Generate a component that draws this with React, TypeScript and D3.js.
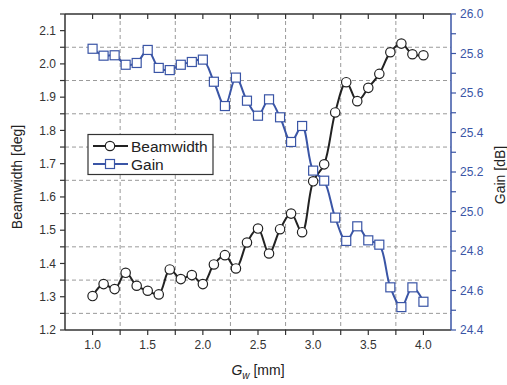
import React from "react";
import * as d3 from "d3";

const gw = [1.0, 1.1, 1.2, 1.3, 1.4, 1.5, 1.6, 1.7, 1.8, 1.9, 2.0, 2.1, 2.2, 2.3, 2.4, 2.5, 2.6, 2.7, 2.8, 2.9, 3.0, 3.1, 3.2, 3.3, 3.4, 3.5, 3.6, 3.7, 3.8, 3.9, 4.0];
const beamwidth = [1.302, 1.338, 1.323, 1.372, 1.333, 1.318, 1.307, 1.382, 1.353, 1.365, 1.338, 1.397, 1.425, 1.385, 1.463, 1.505, 1.43, 1.503, 1.55, 1.494, 1.647, 1.698, 1.854, 1.945, 1.888, 1.928, 1.97, 2.035, 2.061, 2.029, 2.026];
const gain = [25.824, 25.789, 25.791, 25.743, 25.752, 25.818, 25.727, 25.716, 25.743, 25.757, 25.769, 25.657, 25.534, 25.678, 25.561, 25.485, 25.568, 25.477, 25.352, 25.433, 25.207, 25.156, 24.969, 24.851, 24.925, 24.854, 24.832, 24.616, 24.516, 24.616, 24.543];

const xTickLabels = [1.0, 1.5, 2.0, 2.5, 3.0, 3.5, 4.0];
const xGrid = [1.25, 1.75, 2.25, 2.75, 3.25, 3.75];
const yLeftLabels = [1.2, 1.3, 1.4, 1.5, 1.6, 1.7, 1.8, 1.9, 2.0, 2.1];
const yLeftGrid = [1.25, 1.35, 1.45, 1.55, 1.65, 1.75, 1.85, 1.95, 2.05];
const yRightLabels = [24.4, 24.6, 24.8, 25.0, 25.2, 25.4, 25.6, 25.8, 26.0];

const BLUE = "#3a55a6";
const DARK = "#222";
const FONT = "Liberation Sans, Arial, sans-serif";

export default function App() {
  const L = 65, R = 451, T = 14, B = 330;
  const x = d3.scaleLinear().domain([0.75, 4.25]).range([L, R]);
  const yL = d3.scaleLinear().domain([1.2, 2.15]).range([B, T]);
  const yR = d3.scaleLinear().domain([24.4, 26.0]).range([B, T]);

  const xTicksAll = d3.range(0, 14).map((i) => 1.0 + i * 0.25).filter((v) => v < 4.25);
  const yLTicksAll = d3.range(0, 20).map((i) => 1.2 + i * 0.05).filter((v) => v <= 2.1501);
  const yRTicksAll = d3.range(0, 17).map((i) => 24.4 + i * 0.1);

  const pts1: [number, number][] = gw.map((g, i) => [x(g), yL(beamwidth[i])]);
  const pts2: [number, number][] = gw.map((g, i) => [x(g), yR(gain[i])]);
  const line = d3.line().curve(d3.curveCatmullRom.alpha(0.5));

  return (
    <svg width={507} height={385} style={{ position: "absolute", left: 0, top: 0 }} fontFamily={FONT}>
      <rect x={0} y={0} width={507} height={385} fill="#fff" />
      {/* grid */}
      <g stroke="#9a9a9a" strokeWidth={1} strokeDasharray="4,3">
        {xGrid.map((v) => (
          <line key={"gx" + v} x1={x(v)} x2={x(v)} y1={T} y2={B} />
        ))}
        {yLeftGrid.map((v) => (
          <line key={"gy" + v} x1={L} x2={R} y1={yL(v)} y2={yL(v)} />
        ))}
      </g>
      {/* series lines */}
      <path d={line(pts2) || ""} fill="none" stroke={BLUE} strokeWidth={2} />
      <path d={line(pts1) || ""} fill="none" stroke={DARK} strokeWidth={2} />
      {pts2.map((p, i) => (
        <rect key={"s" + i} x={p[0] - 4.5} y={p[1] - 4.5} width={9} height={9} fill="#fff" stroke={BLUE} strokeWidth={1.2} />
      ))}
      {pts1.map((p, i) => (
        <circle key={"c" + i} cx={p[0]} cy={p[1]} r={4.7} fill="#fff" stroke={DARK} strokeWidth={1.2} />
      ))}
      {/* frame */}
      <line x1={L} x2={R} y1={T} y2={T} stroke="#333" strokeWidth={1.5} />
      <line x1={L} x2={R} y1={B} y2={B} stroke="#333" strokeWidth={1.5} />
      <line x1={L} x2={L} y1={T} y2={B} stroke="#333" strokeWidth={1.5} />
      <line x1={R} x2={R} y1={T} y2={B} stroke={BLUE} strokeWidth={1.5} />
      {/* x ticks */}
      {xTicksAll.map((v) => (
        <g key={"xt" + v}>
          <line x1={x(v)} x2={x(v)} y1={B} y2={B + 5} stroke="#333" strokeWidth={1.2} />
          <line x1={x(v)} x2={x(v)} y1={T} y2={T + 5} stroke="#333" strokeWidth={1.2} />
        </g>
      ))}
      {xTickLabels.map((v) => (
        <text key={"xl" + v} x={x(v)} y={B + 19} fontSize={12} fill="#333" textAnchor="middle">
          {v.toFixed(1)}
        </text>
      ))}
      {/* left ticks */}
      {yLTicksAll.map((v) => (
        <line key={"ylt" + v} x1={L - 5} x2={L} y1={yL(v)} y2={yL(v)} stroke="#333" strokeWidth={1.2} />
      ))}
      {yLeftLabels.map((v) => (
        <text key={"yll" + v} x={L - 9} y={yL(v) + 4.2} fontSize={12} fill="#333" textAnchor="end">
          {v.toFixed(1)}
        </text>
      ))}
      {/* right ticks */}
      {yRTicksAll.map((v) => (
        <line key={"yrt" + v} x1={R} x2={R + 5} y1={yR(v)} y2={yR(v)} stroke={BLUE} strokeWidth={1.2} />
      ))}
      {yRightLabels.map((v) => (
        <text key={"yrl" + v} x={R + 9} y={yR(v) + 4.2} fontSize={12} fill={BLUE} textAnchor="start">
          {v.toFixed(1)}
        </text>
      ))}
      {/* axis titles */}
      <text x={258} y={375} fontSize={14} fill="#222" textAnchor="middle">
        <tspan fontStyle="italic">G</tspan>
        <tspan fontStyle="italic" fontSize={10} dy={4}>w</tspan>
        <tspan dy={-4}> [mm]</tspan>
      </text>
      <text transform="translate(22,177) rotate(-90)" fontSize={14} fill="#222" textAnchor="middle">
        Beamwidth [deg]
      </text>
      <text transform="translate(505,175) rotate(-90)" fontSize={14} fill="#222" textAnchor="middle">
        Gain [dB]
      </text>
      {/* legend */}
      <rect x={88} y={134.5} width={125} height={40} fill="#fff" stroke="#333" strokeWidth={1.2} />
      <line x1={93} x2={128} y1={146} y2={146} stroke={DARK} strokeWidth={2} />
      <circle cx={110} cy={146} r={4.7} fill="#fff" stroke={DARK} strokeWidth={1.2} />
      <text x={131} y={151.5} fontSize={15.5} fill="#222">Beamwidth</text>
      <line x1={93} x2={128} y1={164} y2={164} stroke={BLUE} strokeWidth={2} />
      <rect x={105.5} y={159.5} width={9} height={9} fill="#fff" stroke={BLUE} strokeWidth={1.2} />
      <text x={131} y={169.5} fontSize={15.5} fill="#222">Gain</text>
    </svg>
  );
}
